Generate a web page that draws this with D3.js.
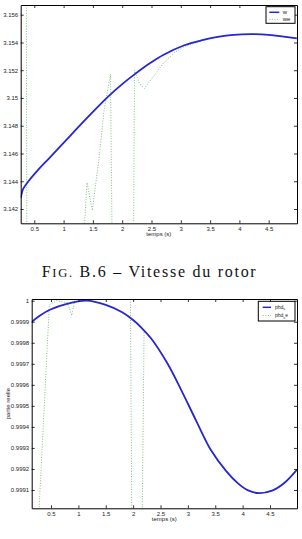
<!DOCTYPE html>
<html><head><meta charset="utf-8">
<script src="https://cdn.jsdelivr.net/npm/d3@7"></script>
<style>body{margin:0;background:#fff}svg{display:block}</style>
</head><body>
<script>
// ---- Data: Fig. B.6 top chart (rotor speed) ----
const wTime   = [0.27, 0.29, 0.31, 0.40, 0.55, 0.74, 1.02, 1.25, 1.50, 1.76, 2.00, 2.21, 2.49, 2.70, 3.06, 3.35, 3.63, 3.90, 4.20, 4.50, 4.98];
const wValues = [3.1428, 3.1432, 3.14345, 3.1440, 3.14475, 3.1456, 3.14685, 3.1479, 3.1490, 3.1501, 3.1510, 3.1517, 3.15255, 3.1531, 3.1538, 3.15415, 3.1544, 3.15455, 3.1546, 3.15455, 3.1543];
const weTime   = [0.27, 0.36, 0.38, 1.33, 1.40, 1.49, 1.60, 1.69, 1.80, 1.85, 2.18, 2.21, 2.30, 2.38, 2.49, 2.70, 2.90, 3.06, 3.35, 3.63, 3.90, 4.20, 4.50, 4.98];
const weValues = [3.170, 3.170, 3.120, 3.139, 3.1439, 3.1419, 3.1455, 3.1491, 3.1517, 3.130, 3.130, 3.1520, 3.1510, 3.1507, 3.1513, 3.1525, 3.1533, 3.1537, 3.15412, 3.1544, 3.15455, 3.1546, 3.15455, 3.1543];
const topXTicks = [0.5, 1, 1.5, 2, 2.5, 3, 3.5, 4, 4.5];
const topXTickLabels = ["0.5", "1", "1.5", "2", "2.5", "3", "3.5", "4", "4.5"];
const topYTicks = [3.142, 3.144, 3.146, 3.148, 3.15, 3.152, 3.154, 3.156];
const topYTickLabels = ["3.142", "3.144", "3.146", "3.148", "3.15", "3.152", "3.154", "3.156"];

// ---- Data: bottom chart (partie reelle) ----
const phdTime   = [0.15, 0.30, 0.48, 0.79, 1.15, 1.50, 1.80, 2.00, 2.15, 2.33, 2.63, 2.87, 3.15, 3.42, 3.70, 3.91, 4.10, 4.30, 4.55, 4.76, 4.99];
const phdValues = [0.99990, 0.99993, 0.999957, 0.999985, 1.000000, 0.99998, 0.999945, 0.999908, 0.999872, 0.99982, 0.99970, 0.99958, 0.99943, 0.99929, 0.99919, 0.999133, 0.999098, 0.999085, 0.999098, 0.999133, 0.999196];
const phdeTime   = [0.15, 0.28, 0.47, 0.60, 0.80, 0.88, 0.93, 1.00, 1.95, 1.98, 2.16, 2.20, 2.33, 2.63, 2.87, 3.15, 3.42, 3.70, 3.91, 4.10, 4.30, 4.55, 4.76, 4.99];
const phdeValues = [0.99850, 0.99900, 0.99998, 1.000000, 0.99999, 0.99993, 1.000000, 1.00003, 1.00003, 0.99880, 0.99880, 0.99986, 0.99982, 0.99970, 0.99958, 0.99943, 0.99929, 0.99919, 0.999133, 0.999098, 0.999085, 0.999098, 0.999133, 0.999196];
const botXTicks = [0.5, 1, 1.5, 2, 2.5, 3, 3.5, 4, 4.5];
const botXTickLabels = ["0.5", "1", "1.5", "2", "2.5", "3", "3.5", "4", "4.5"];
const botYTicks = [0.9991, 0.9992, 0.9993, 0.9994, 0.9995, 0.9996, 0.9997, 0.9998, 0.9999, 1];
const botYTickLabels = ["0.9991", "0.9992", "0.9993", "0.9994", "0.9995", "0.9996", "0.9997", "0.9998", "0.9999", "1"];

const BLUE = "#2626d4", GREEN = "#7cc47c";
const FONT = "'Liberation Sans', Arial, sans-serif";

const svg = d3.select("body").append("svg").attr("width", 302).attr("height", 539);

function chart(cfg) {
  const {L, R, T, B, xDom, yDom, xTicks, xLabels, yTicks, yLabels, s1, s2, legend, id, ylabel} = cfg;
  const x = d3.scaleLinear().domain(xDom).range([L, R]);
  const y = d3.scaleLinear().domain(yDom).range([B, T]);
  const g = svg.append("g");
  g.append("clipPath").attr("id", id).append("rect")
    .attr("x", L).attr("y", T).attr("width", R - L).attr("height", B - T);

  const lineG = d3.line().x(d => x(d[0])).y(d => y(d[1]));
  const lineB = d3.line().x(d => x(d[0])).y(d => y(d[1])).curve(d3.curveCatmullRom.alpha(0.5));
  const pl = g.append("g").attr("clip-path", `url(#${id})`);
  pl.append("path").datum(d3.zip(s2.t, s2.v)).attr("d", lineG)
    .attr("fill", "none").attr("stroke", GREEN).attr("stroke-width", 1).attr("stroke-dasharray", "1,1.6");
  pl.append("path").datum(d3.zip(s1.t, s1.v)).attr("d", lineB)
    .attr("fill", "none").attr("stroke", BLUE).attr("stroke-width", 1.8);

  const fmtX = v => xLabels[xTicks.indexOf(v)];
  const fmtY = v => yLabels[yTicks.indexOf(v)];
  const styleAx = sel => {
    sel.selectAll("path.domain").attr("stroke", "#000").attr("stroke-width", 1);
    sel.selectAll(".tick line").attr("stroke", "#000").attr("stroke-width", 0.8);
    sel.selectAll("text").attr("font-family", FONT).attr("font-size", 6).attr("fill", "#222");
  };
  g.append("g").attr("transform", `translate(0,${B})`)
    .call(d3.axisBottom(x).tickValues(xTicks).tickFormat(fmtX).tickSize(-3).tickSizeOuter(0).tickPadding(3.5)).call(styleAx);
  g.append("g").attr("transform", `translate(0,${T})`)
    .call(d3.axisTop(x).tickValues(xTicks).tickFormat("").tickSize(-3).tickSizeOuter(0)).call(styleAx);
  g.append("g").attr("transform", `translate(${L},0)`)
    .call(d3.axisLeft(y).tickValues(yTicks).tickFormat(fmtY).tickSize(-3).tickSizeOuter(0).tickPadding(2.5)).call(styleAx);
  g.append("g").attr("transform", `translate(${R},0)`)
    .call(d3.axisRight(y).tickValues(yTicks).tickFormat("").tickSize(-3).tickSizeOuter(0)).call(styleAx);

  g.append("text").attr("x", (L + R) / 2).attr("y", B + 13).attr("text-anchor", "middle")
    .attr("font-family", FONT).attr("font-size", 6).attr("fill", "#222").text("temps (s)");
  if (ylabel) {
    g.append("text").attr("transform", `translate(${ylabel.x},${(T + B) / 2}) rotate(-90)`)
      .attr("text-anchor", "middle").attr("font-family", FONT).attr("font-size", 6).attr("fill", "#222").text(ylabel.text);
  }

  // legend
  const lg = g.append("g");
  lg.append("rect").attr("x", legend.x0).attr("y", legend.y0).attr("width", legend.x1 - legend.x0)
    .attr("height", legend.y1 - legend.y0).attr("fill", "#fff").attr("stroke", "#000").attr("stroke-width", 1);
  legend.items.forEach((it, i) => {
    const yy = legend.rows[i];
    lg.append("line").attr("x1", legend.lx0).attr("x2", legend.lx1).attr("y1", yy).attr("y2", yy)
      .attr("stroke", i === 0 ? BLUE : GREEN).attr("stroke-width", i === 0 ? 1.5 : 1)
      .attr("stroke-dasharray", i === 0 ? null : "1,1.6");
    const t = lg.append("text").attr("x", legend.tx).attr("y", yy + 1.8)
      .attr("font-family", FONT).attr("font-size", legend.fs).attr("fill", "#222");
    it.forEach(part => {
      const ts = t.append("tspan").text(part.s);
      if (part.sub) ts.attr("font-size", legend.fs * 0.75).attr("dy", 1.2);
      else if (part.back) ts.attr("dy", -1.2);
    });
  });
}

chart({
  id: "c1", L: 20.7, R: 297, T: 5, B: 223.3,
  xDom: [0.268, 4.983], yDom: [3.14097, 3.15670],
  xTicks: topXTicks, xLabels: topXTickLabels, yTicks: topYTicks, yLabels: topYTickLabels,
  s1: {t: wTime, v: wValues}, s2: {t: weTime, v: weValues},
  legend: {x0: 266, x1: 295, y0: 6.7, y1: 23.3, lx0: 269.3, lx1: 279.3, tx: 282.7, rows: [12.3, 19.3], fs: 6,
    items: [[{s: "w"}], [{s: "we"}]]}
});

chart({
  id: "c2", L: 31.7, R: 297, T: 299, B: 508.3,
  xDom: [0.1475, 4.993], yDom: [0.999013, 1.0000081],
  xTicks: botXTicks, xLabels: botXTickLabels, yTicks: botYTicks, yLabels: botYTickLabels,
  s1: {t: phdTime, v: phdValues}, s2: {t: phdeTime, v: phdeValues},
  ylabel: {x: 10, text: "partie reelle"},
  legend: {x0: 258.3, x1: 295, y0: 301.3, y1: 321, lx0: 262.7, lx1: 271, tx: 275, rows: [307.3, 315.5], fs: 5,
    items: [[{s: "phd"}, {s: "s", sub: true}], [{s: "phd"}, {s: "s", sub: true}, {s: "e", back: true}]]}
});

// caption
const cap = svg.append("text").attr("x", 41.7).attr("y", 277.3)
  .attr("font-family", "'Liberation Serif', 'DejaVu Serif', serif").attr("font-size", 16).attr("fill", "#111")
  .attr("textLength", 214).attr("lengthAdjust", "spacing");
cap.append("tspan").text("F");
cap.append("tspan").attr("font-size", 12.5).text("IG.");
cap.append("tspan").text(" B.6 – Vitesse du rotor");
</script>
</body></html>
